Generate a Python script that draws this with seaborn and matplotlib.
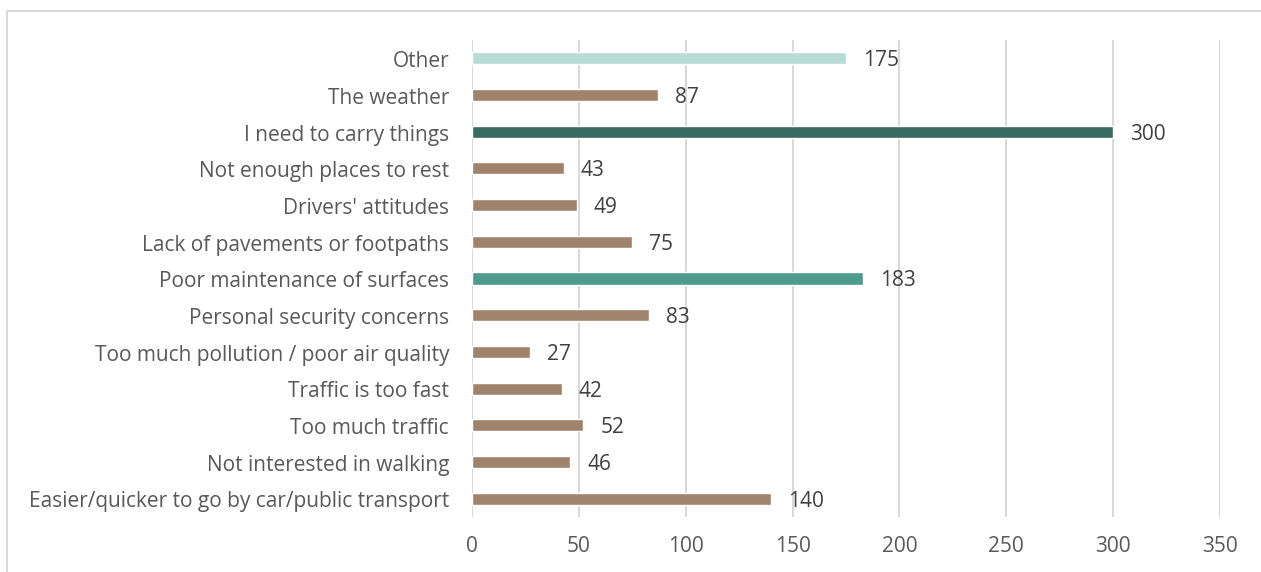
import matplotlib
matplotlib.use("Agg")
import matplotlib.pyplot as plt
import matplotlib.transforms as mtrans
import seaborn as sns
import pandas as pd
from matplotlib.patches import Rectangle

# data, top to bottom as in the chart
reasons = [
    "Other",
    "The weather",
    "I need to carry things",
    "Not enough places to rest",
    "Drivers' attitudes",
    "Lack of pavements or footpaths",
    "Poor maintenance of surfaces",
    "Personal security concerns",
    "Too much pollution / poor air quality",
    "Traffic is too fast",
    "Too much traffic",
    "Not interested in walking",
    "Easier/quicker to go by car/public transport",
]
counts = [175, 87, 300, 43, 49, 75, 183, 83, 27, 42, 52, 46, 140]

BROWN = "#A0836C"
special = {"Other": "#B7DCD6", "I need to carry things": "#386B61",
           "Poor maintenance of surfaces": "#4C9B8E"}
palette = {r: special.get(r, BROWN) for r in reasons}

df = pd.DataFrame({"reason": reasons, "count": counts})

sns.set_style("white")
plt.rcParams["font.family"] = ["Open Sans", "DejaVu Sans"]
TXT = "#595959"
FS = 15

fig = plt.figure(figsize=(12.61, 5.72), dpi=100)
ax = fig.add_axes([472 / 1261, 1 - 517 / 572, (1220 - 472) / 1261, (517 - 40) / 572])

sns.barplot(data=df, x="count", y="reason", hue="reason", palette=palette,
            order=reasons, width=0.33, legend=False, saturation=1, ax=ax, zorder=3)

ax.set_xlim(0, 350)
ax.set_ylim(len(reasons) - 0.5, -0.5)
ax.set_xticks(range(0, 351, 50))
ax.grid(axis="x", color="#D9D9D9", linewidth=1.5, zorder=0)
ax.grid(axis="y", visible=False)
for s in ax.spines.values():
    s.set_visible(False)
ax.set_xlabel("")
ax.set_ylabel("")
ax.tick_params(axis="both", length=0, labelsize=FS, colors=TXT)
ax.tick_params(axis="y", pad=16.5)
ax.tick_params(axis="x", pad=14)

# small nudge so the category labels sit level with the bars
shift = mtrans.ScaledTranslation(0, -0.8 / 100, fig.dpi_scale_trans)
for t in ax.get_yticklabels():
    t.set_transform(t.get_transform() + shift)

for i, v in enumerate(counts):
    ax.annotate(str(v), (v, i), xytext=(17, -2.5), textcoords="offset pixels",
                va="center", ha="left", fontsize=FS, color="#404040")

fig.patches.append(Rectangle((7 / 1261, -0.1), 1.2, 1 - 11 / 572 + 0.1,
                             transform=fig.transFigure, fill=False,
                             edgecolor="#D9D9D9", linewidth=1.5))

fig.savefig("out.png", dpi=100)
